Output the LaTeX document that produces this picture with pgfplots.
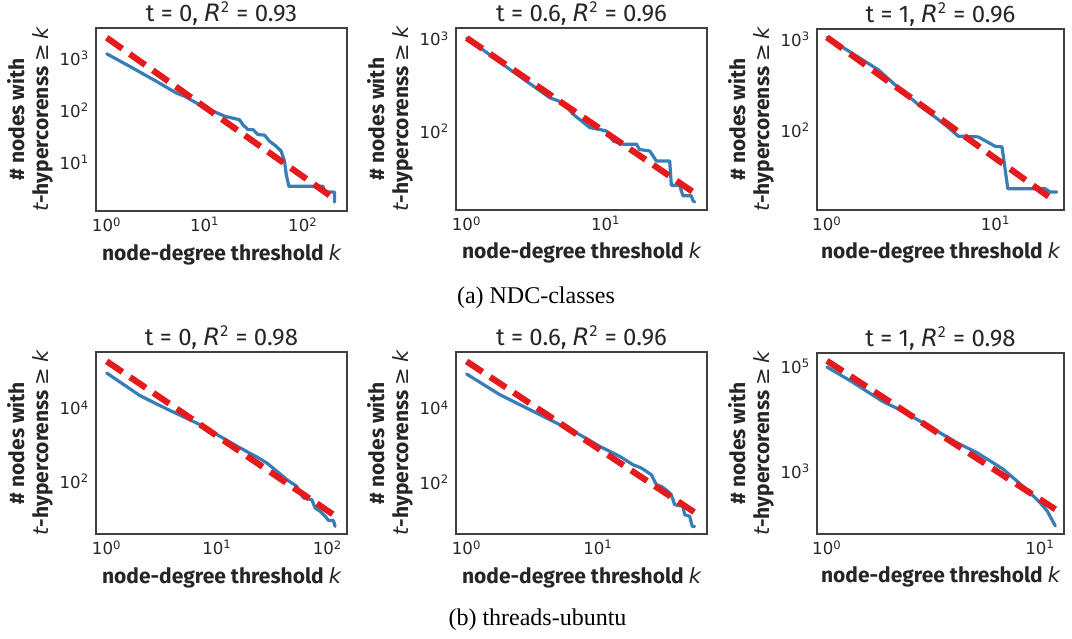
\documentclass[border=0pt]{standalone}
\usepackage{fontspec}
\setmainfont{Fira Sans}
\newfontfamily\djv{DejaVu Sans}
\newfontfamily\capfont{Liberation Serif}
\usepackage{pgfplots}
\pgfplotsset{compat=1.18}
\definecolor{cblue}{RGB}{55,126,184}
\definecolor{cred}{RGB}{228,26,28}
\definecolor{cframe}{RGB}{64,64,64}
\newcommand{\ik}[1]{{\djv\mdseries\itshape #1}}
\newcommand{\tp}[1]{10\textsuperscript{#1}}
\pgfplotsset{
  scale only axis,
  axis line style={draw=cframe, line width=0.8pt},
  major tick length=0pt, minor tick length=0pt,
  tick label style={font=\djv\fontsize{8.3}{10}\selectfont, text=black!85},
  xticklabel style={anchor=north, inner sep=0pt, yshift=-3pt},
  yticklabel style={anchor=east, inner sep=0pt, xshift=-3.2pt},
  every axis title/.style={font=\fontsize{12}{14}\selectfont, text=black!85, at={(axis description cs:0.5,1)}, anchor=base, yshift=3.4pt},
  every axis x label/.style={at={(axis description cs:0.5,0)}, anchor=base, yshift=-24.5pt, font=\fontsize{10.5}{12}\selectfont, text=black!85},
  every axis y label/.style={at={(axis description cs:0,0.5)}, rotate=90, anchor=center, yshift=33pt, align=center, font=\fontsize{10.5}{12}\selectfont, text=black!85},
}
\tikzset{
  bl/.style={draw=cblue, line width=1.6pt, line join=round, line cap=round},
  rd/.style={draw=cred, line width=3.1pt, dash pattern=on 9.5pt off 4.6pt, line cap=butt},
}
\newcommand{\XL}{\bfseries node-degree threshold \ik{k}}
\newcommand{\YL}{\bfseries \# nodes with\\\ik{t}\bfseries-hypercorenss {\djv\mdseries ≥} \ik{k}}
\begin{document}
\begin{tikzpicture}
\useasboundingbox (0,0) rectangle (536pt,319pt);
% Panel 1
\begin{axis}[xmode=log, ymode=log, anchor=south west, at={(48pt,213.5pt)}, width=125.5pt, height=91.5pt,
  xmin=0.778, xmax=281, ymin=1.17, ymax=3780,
  xtick={1,10,100}, xticklabels={\tp{0},\tp{1},\tp{2}},
  ytick={10,100,1000}, yticklabels={\tp{1},\tp{2},\tp{3}},
  xlabel={\XL}, ylabel={\YL},
  title={t = 0, \ik{R}\textsuperscript{2} = 0.93}]
\addplot[bl] coordinates {(1,1210) (1.70,701) (3.19,361) (5.1,215) (6.2,186) (8.8,128) (12.1,96) (14.1,85) (15.9,77) (17.8,73) (22.5,66) (24.4,53) (27.5,42.5) (30.9,42.5) (34.7,34.3) (40.6,33.3) (45.6,25.5) (53.4,20.4) (60,16.4) (64.9,10.5) (67.6,5.8) (71.9,3.48) (160,3.48) (166,2.71) (210,2.71) (210,1.74)};
\addplot[rd] coordinates {(1,2460) (210,2.0)};
\end{axis}
% Panel 2
\begin{axis}[xmode=log, ymode=log, anchor=south west, at={(228pt,214pt)}, width=125.5pt, height=91pt,
  xmin=0.838, xmax=53.4, ymin=13.9, ymax=1315,
  xtick={1,10}, xticklabels={\tp{0},\tp{1}},
  ytick={100,1000}, yticklabels={\tp{2},\tp{3}},
  xlabel={\XL}, ylabel={\YL},
  title={t = 0.6, \ik{R}\textsuperscript{2} = 0.96}]
\addplot[bl] coordinates {(1,1025) (2.05,465) (3.96,230) (4.94,203) (5.83,152) (7.68,109) (9.06,104) (10.1,100) (11.3,78) (13.3,72) (16.6,72) (17.5,63) (20.7,60.8) (23.1,47.3) (28.8,47.3) (29.6,25.8) (33.9,25.8) (35.9,19.8) (41.2,19.8) (42.4,17.5) (43.5,17)};
\addplot[rd] coordinates {(1,1025) (42.4,21.8)};
\end{axis}
% Panel 3
\begin{axis}[xmode=log, ymode=log, anchor=south west, at={(408.5pt,214pt)}, width=123.5pt, height=90.5pt,
  xmin=0.873, xmax=25.4, ymin=13.3, ymax=1298,
  xtick={1,10}, xticklabels={\tp{0},\tp{1}},
  ytick={100,1000}, yticklabels={\tp{2},\tp{3}},
  xlabel={\XL}, ylabel={\YL},
  title={t = 1, \ik{R}\textsuperscript{2} = 0.96}]
\addplot[bl] coordinates {(1,1051) (1.41,703) (2.02,461) (2.66,291) (3.49,191) (4.18,149) (5.01,115) (6.01,86) (6.59,86) (7.89,84.5) (9.91,66.8) (10.9,65.7) (11.8,22.8) (19.6,22.8) (21,21) (23,21)};
\addplot[rd] coordinates {(1,1051) (21,18.2)};
\end{axis}
% Panel 4
\begin{axis}[xmode=log, ymode=log, anchor=south west, at={(48pt,52pt)}, width=125.5pt, height=91pt,
  xmin=0.80, xmax=150, ymin=3.66, ymax=336000,
  xtick={1,10,100}, xticklabels={\tp{0},\tp{1},\tp{2}},
  ytick={100,10000}, yticklabels={\tp{2},\tp{4}},
  xlabel={\XL}, ylabel={\YL},
  title={t = 0, \ik{R}\textsuperscript{2} = 0.98}]
\addplot[bl] coordinates {(1,90000) (2.0,21700) (3.5,9400) (7.0,3510) (10.6,1690) (16.2,811) (22.9,461) (28.2,316) (34.8,187) (42.8,111) (52.7,73) (56.5,48) (60.6,35) (72,31.6) (77.3,18.7) (85.9,15.2) (95.3,11.1) (102,8.6) (113,8.5) (117,5.9)};
\addplot[rd] coordinates {(1,187000) (113,12.3)};
\end{axis}
% Panel 5
\begin{axis}[xmode=log, ymode=log, anchor=south west, at={(228pt,52pt)}, width=125.5pt, height=91pt,
  xmin=0.83, xmax=67.3, ymin=3.94, ymax=327000,
  xtick={1,10}, xticklabels={\tp{0},\tp{1}},
  ytick={100,10000}, yticklabels={\tp{2},\tp{4}},
  xlabel={\XL}, ylabel={\YL},
  title={t = 0.6, \ik{R}\textsuperscript{2} = 0.96}]
\addplot[bl] coordinates {(1,83000) (1.79,22900) (2.86,10000) (5.12,3540) (7.26,1900) (10.3,920) (14.6,494) (18.4,294) (21.3,239) (23.3,194) (25.4,158) (27.7,85) (30.3,76) (34,56) (36,45.5) (38.2,24.4) (44.2,22) (45.5,13.1) (49.7,11.8) (52,6.3) (54.2,6.3)};
\addplot[rd] coordinates {(1,182000) (54.2,15.1)};
\end{axis}
% Panel 6
\begin{axis}[xmode=log, ymode=log, anchor=south west, at={(408.5pt,52pt)}, width=123.5pt, height=90.5pt,
  xmin=0.898, xmax=12.96, ymin=64, ymax=179000,
  xtick={1,10}, xticklabels={\tp{0},\tp{1}},
  ytick={1000,100000}, yticklabels={\tp{3},\tp{5}},
  xlabel={\XL}, ylabel={\YL},
  title={t = 1, \ik{R}\textsuperscript{2} = 0.98}]
\addplot[bl] coordinates {(1,97000) (1.29,52700) (1.84,21000) (2.21,14800) (2.64,9800) (3.28,5860) (4.07,3520) (5.05,2270) (5.83,1580) (6.73,1090) (7.78,656) (8.98,393) (10,253) (10.8,176) (11.8,91)};
\addplot[rd] coordinates {(1,127000) (11.8,189)};
\end{axis}
\node[font=\capfont\fontsize{12}{14}\selectfont, anchor=center] at (268pt,170pt) {(a) NDC-classes};
\node[font=\capfont\fontsize{12}{14}\selectfont, anchor=center] at (268.75pt,9pt) {(b) threads-ubuntu};
\end{tikzpicture}
\end{document}
